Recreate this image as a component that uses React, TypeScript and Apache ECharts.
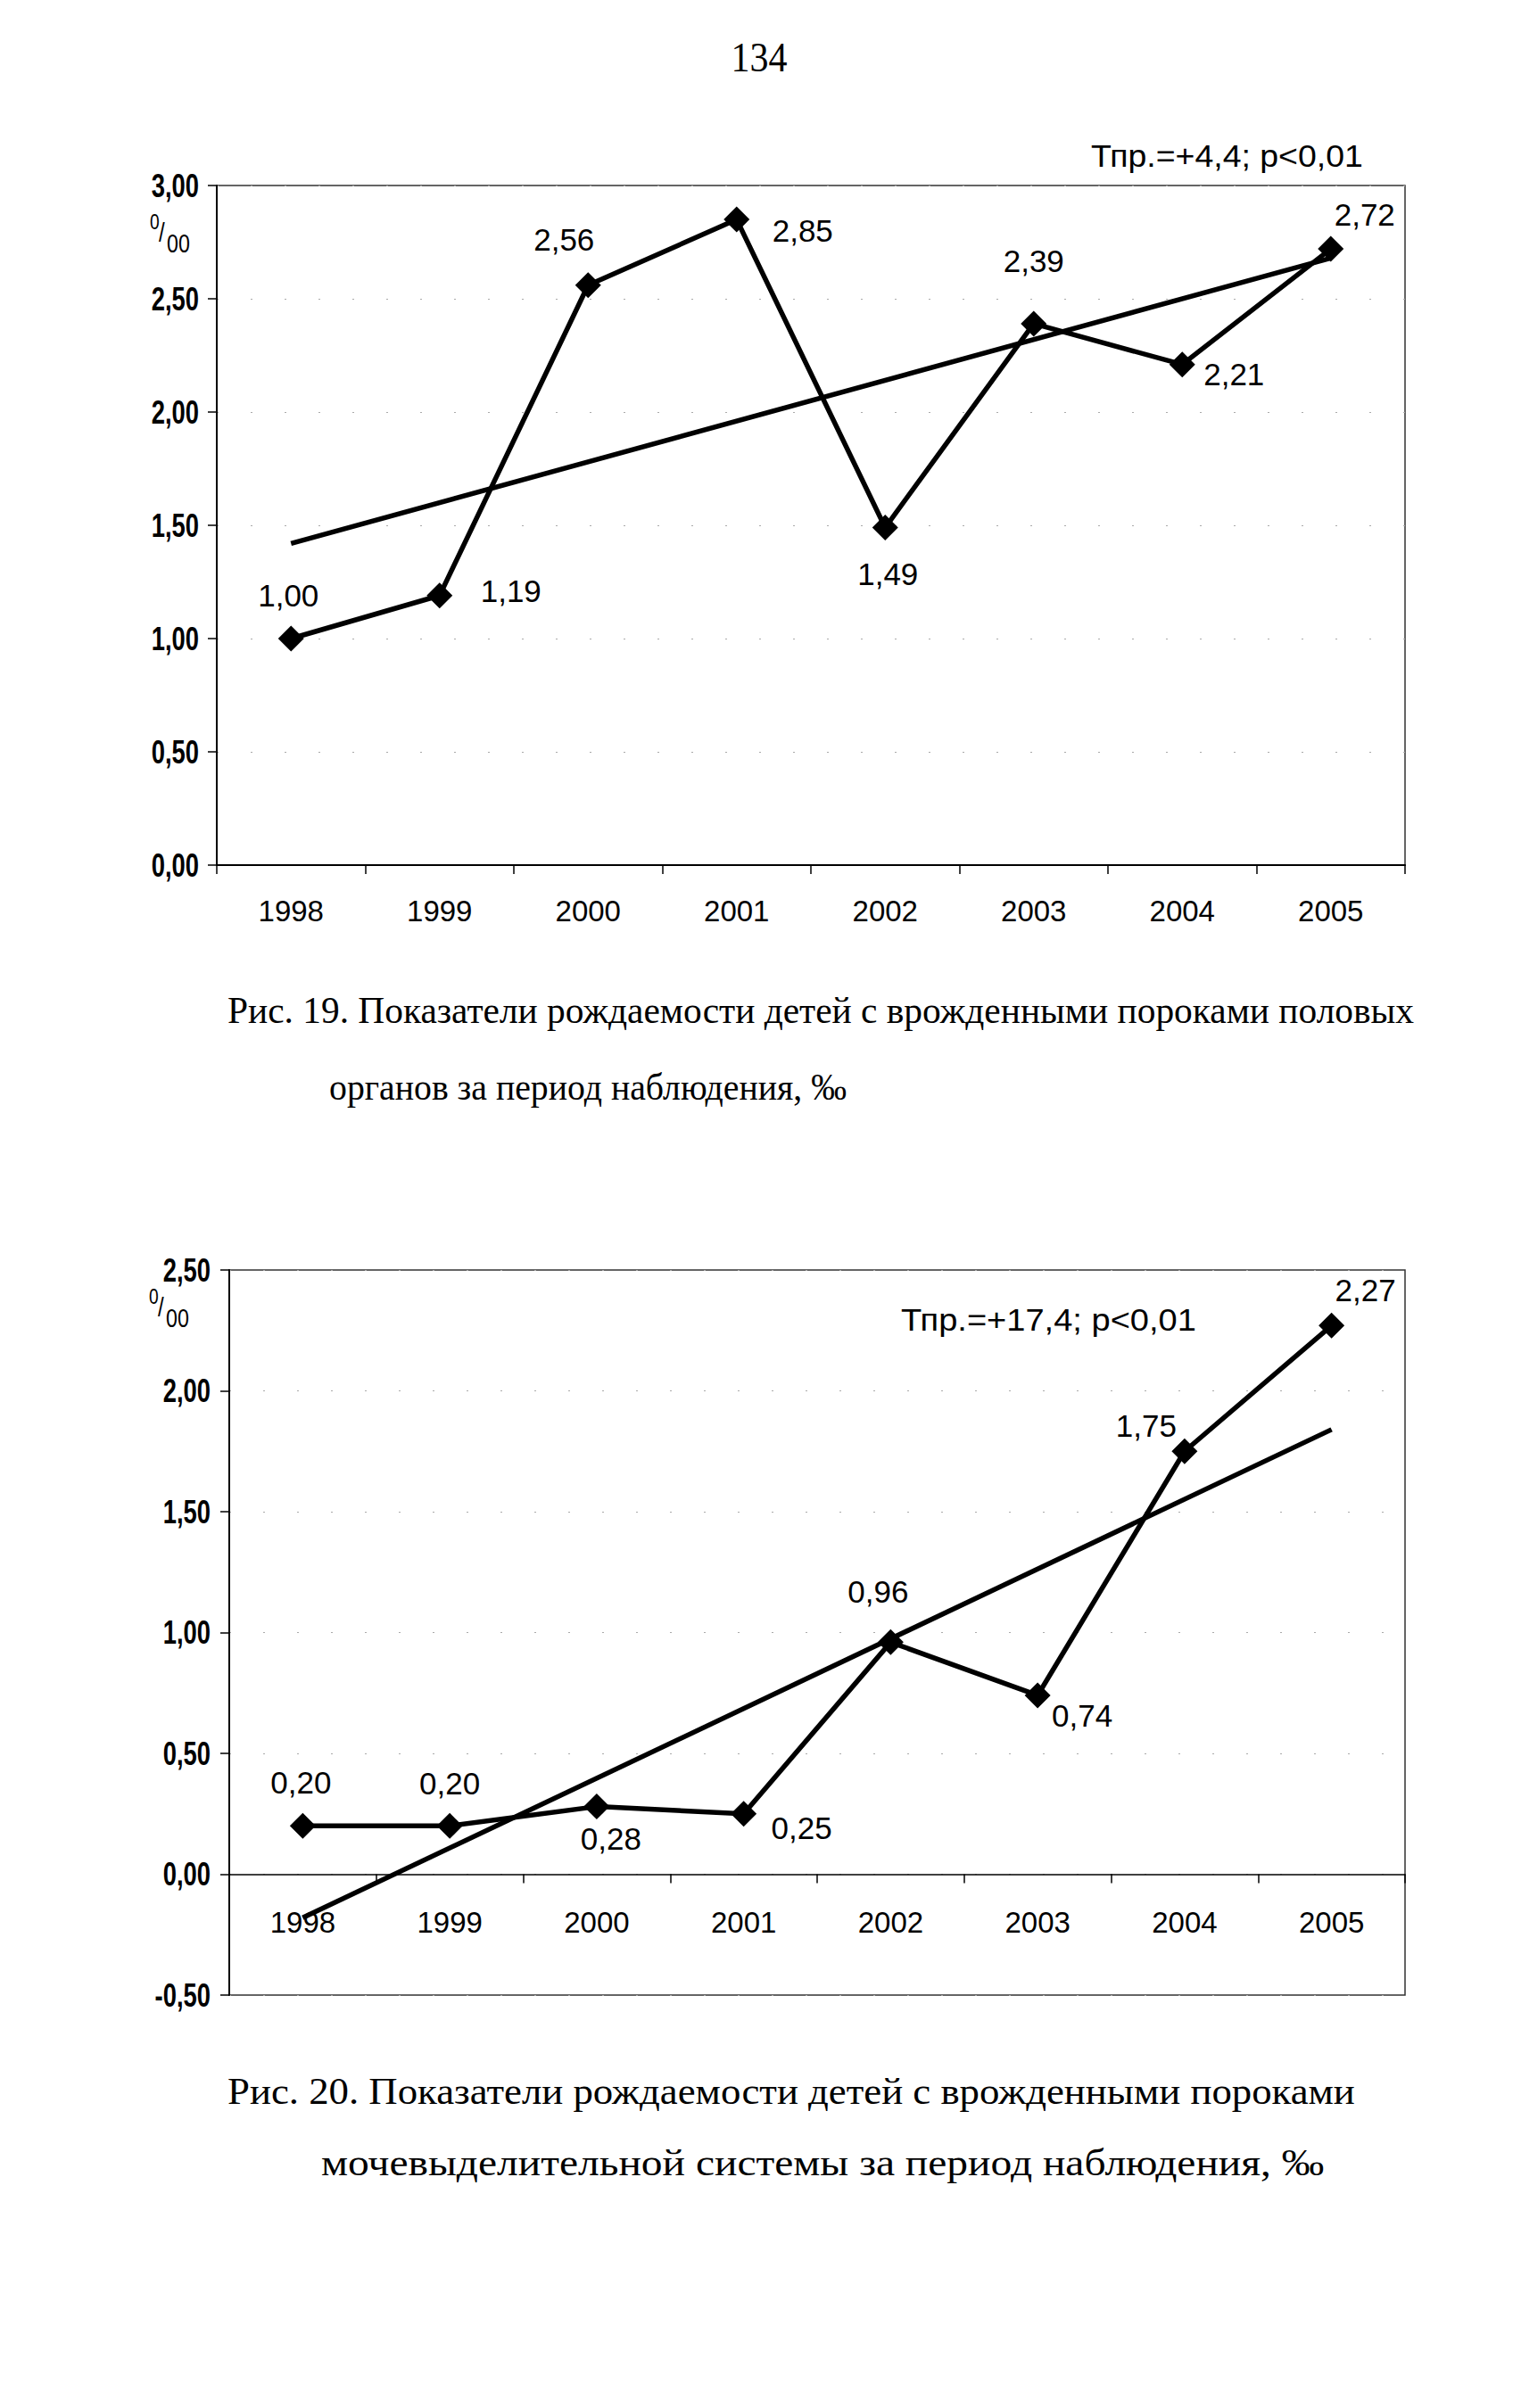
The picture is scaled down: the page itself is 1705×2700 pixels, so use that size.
import React, { useEffect, useRef } from "react";
import * as echarts from "echarts";

// ---------- data ----------
const years = ["1998", "1999", "2000", "2001", "2002", "2003", "2004", "2005"];
const genitalRates = [1.0, 1.19, 2.56, 2.85, 1.49, 2.39, 2.21, 2.72];
const genitalTrend = [1.42, 2.68]; // trend line value at 1998 and at 2005
const genitalYTicks = [0, 0.5, 1.0, 1.5, 2.0, 2.5, 3.0];
const urinaryRates = [0.2, 0.2, 0.28, 0.25, 0.96, 0.74, 1.75, 2.27];
const urinaryTrend = [-0.18, 1.84];
const urinaryYTicks = [-0.5, 0, 0.5, 1.0, 1.5, 2.0, 2.5];

const pageNumber = "134";
const genitalTrendNote = "Тпр.=+4,4; p<0,01";
const urinaryTrendNote = "Тпр.=+17,4; p<0,01";
const caption19 = [
  "Рис. 19. Показатели рождаемости детей с врожденными пороками половых",
  "органов за период наблюдения, ‰",
];
const caption20 = [
  "Рис. 20. Показатели рождаемости детей с врожденными пороками",
  "мочевыделительной системы за период наблюдения, ‰",
];

// ---------- styling / layout ----------
const genitalLabelOffsets = [[-3, -49], [80, -5], [-27, -51], [74, 12], [3, 52], [0, -70], [58, 11], [38, -39]];
const urinaryLabelOffsets = [[-2, -49], [0, -48], [16, 36], [65, 16], [-14, -57], [50, 23], [-43, -29], [38, -40]];

const GRID_TOP = { left: 243, top: 208, width: 1332, height: 762 };
const GRID_BOTTOM = { left: 257, top: 1424, width: 1318, height: 813 };

const SANS = "'Liberation Sans', Arial, sans-serif";
const SERIF = "'Liberation Serif', 'Times New Roman', serif";

const fmt = (v: number) => v.toFixed(2).replace(".", ",");

function measure(text: string, font: string): number {
  const c = document.createElement("canvas");
  const ctx = c.getContext("2d");
  if (!ctx) return text.length * 20;
  ctx.font = font;
  return ctx.measureText(text).width;
}

function fittedText(text: string, x: number, y: number, size: number, family: string, targetWidth: number, align = "left") {
  const w = measure(text, `${size}px ${family}`);
  const sx = targetWidth / w;
  return {
    type: "text",
    x,
    y,
    scaleX: sx,
    silent: true,
    style: {
      text,
      fontSize: size,
      fontFamily: family,
      fill: "#000",
      align,
      verticalAlign: "middle",
    },
  };
}

function unitMark(x: number, y: number) {
  const base = { fontFamily: SANS, fill: "#000", align: "left", verticalAlign: "middle" };
  return [
    { type: "text", x: x, y: y, scaleX: 0.8, silent: true, style: { ...base, text: "0", fontSize: 24 } },
    { type: "text", x: x + 10, y: y + 12, scaleX: 0.8, silent: true, style: { ...base, text: "/", fontSize: 30 } },
    { type: "text", x: x + 19, y: y + 24, scaleX: 0.8, silent: true, style: { ...base, text: "00", fontSize: 29 } },
  ];
}

function xAxisCfg(gridIndex: number, lineWidth: number, margin: number, offset: number) {
  return {
    gridIndex,
    type: "category",
    data: years,
    boundaryGap: true,
    position: "bottom",
    offset,
    axisLine: { show: true, onZero: false, lineStyle: { color: "#000", width: lineWidth } },
    axisTick: { show: true, inside: false, length: 10, lineStyle: { color: "#000", width: 1.5 } },
    axisLabel: { fontFamily: SANS, fontSize: 33, color: "#000", margin },
    splitLine: { show: false },
  };
}

function yAxisCfg(gridIndex: number, ticks: number[]) {
  return {
    gridIndex,
    type: "value",
    min: ticks[0],
    max: ticks[ticks.length - 1],
    interval: ticks[1] - ticks[0],
    axisLine: { show: true, onZero: false, lineStyle: { color: "#000", width: 2 } },
    axisTick: { show: true, inside: false, length: 10, lineStyle: { color: "#000", width: 1.5 } },
    axisLabel: { show: false },
    splitLine: { show: true, lineStyle: { color: "#aaa", width: 1, type: [2, 36] } },
  };
}

function seriesFor(axisIndex: number, rates: number[], trend: number[], offsets: number[][]) {
  return [
    {
      type: "line",
      xAxisIndex: axisIndex,
      yAxisIndex: axisIndex,
      data: [
        [years[0], trend[0]],
        [years[years.length - 1], trend[1]],
      ],
      symbol: "none",
      silent: true,
      lineStyle: { color: "#000", width: 5.5 },
      z: 2,
    },
    {
      type: "line",
      xAxisIndex: axisIndex,
      yAxisIndex: axisIndex,
      data: rates.map((v, i) => ({ value: v, label: { offset: offsets[i] } })),
      symbol: "diamond",
      symbolSize: 29,
      silent: true,
      itemStyle: { color: "#000" },
      lineStyle: { color: "#000", width: 5.5 },
      label: {
        show: true,
        position: "inside",
        formatter: (p: any) => fmt(p.value),
        fontFamily: SANS,
        fontSize: 35,
        color: "#000",
        textBorderWidth: 0,
      },
      z: 3,
    },
  ];
}

export default function App() {
  const ref = useRef<HTMLDivElement>(null);

  useEffect(() => {
    if (!ref.current) return;
    const chart = echarts.init(ref.current, undefined, { renderer: "svg" });

    const graphics: any[] = [
      fittedText(pageNumber, 851, 65, 46, SERIF, 63, "center"),
      fittedText(genitalTrendNote, 1223, 175, 35, SANS, 305),
      fittedText(urinaryTrendNote, 1010, 1480, 35, SANS, 331),
      ...unitMark(168, 249),
      ...unitMark(167, 1454),
      fittedText(caption19[0], 255, 1133, 42, SERIF, 1331),
      fittedText(caption19[1], 369, 1219, 42, SERIF, 580),
      fittedText(caption20[0], 255, 2344, 42, SERIF, 1264),
      fittedText(caption20[1], 360, 2425, 42, SERIF, 1125),
    ];

    // bottom chart: x axis sits on the zero line
    const zeroOffset =
      -(GRID_BOTTOM.height * (0 - urinaryYTicks[0])) / (urinaryYTicks[urinaryYTicks.length - 1] - urinaryYTicks[0]);

    chart.setOption({
      animation: false,
      backgroundColor: "#fff",
      tooltip: { show: false },
      grid: [
        { ...GRID_TOP, show: true, borderColor: "#333", borderWidth: 1.5, backgroundColor: "transparent" },
        { ...GRID_BOTTOM, show: true, borderColor: "#333", borderWidth: 1.5, backgroundColor: "transparent" },
      ],
      xAxis: [xAxisCfg(0, 2, 35, 0), xAxisCfg(1, 1.5, 37, zeroOffset)],
      yAxis: [yAxisCfg(0, genitalYTicks), yAxisCfg(1, urinaryYTicks)],
      series: [
        ...seriesFor(0, genitalRates, genitalTrend, genitalLabelOffsets),
        ...seriesFor(1, urinaryRates, urinaryTrend, urinaryLabelOffsets),
      ],
      graphic: graphics,
    });

    // condensed y-axis tick labels, placed through the axis scale
    const yLabels: any[] = [];
    const addYLabels = (axisIndex: number, ticks: number[], rightX: number) => {
      ticks.forEach((t) => {
        const py = chart.convertToPixel({ yAxisIndex: axisIndex } as any, t) as unknown as number;
        yLabels.push({
          type: "text",
          x: rightX,
          y: py,
          scaleX: 0.74,
          silent: true,
          style: {
            text: fmt(t),
            fontSize: 37,
            fontFamily: SANS,
            fontWeight: "bold",
            fill: "#000",
            align: "right",
            verticalAlign: "middle",
          },
        });
      });
    };
    addYLabels(0, genitalYTicks, GRID_TOP.left - 20);
    addYLabels(1, urinaryYTicks, GRID_BOTTOM.left - 21);

    chart.setOption({ graphic: [...graphics, ...yLabels] });

    return () => chart.dispose();
  }, []);

  return (
    <div
      ref={ref}
      style={{ position: "absolute", left: 0, top: 0, width: 1705, height: 2700, background: "#fff" }}
    />
  );
}
